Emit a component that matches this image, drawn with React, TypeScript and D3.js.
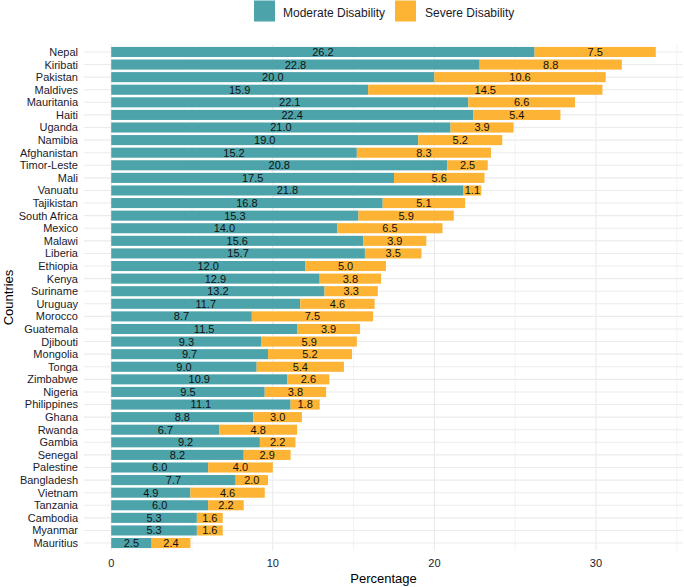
import React from 'react';
import * as d3 from 'd3';

// 国家按总比例降序排列
const countries = [
  'Nepal', 'Kiribati', 'Pakistan', 'Maldives', 'Mauritania', 'Haiti', 'Uganda', 'Namibia',
  'Afghanistan', 'Timor-Leste', 'Mali', 'Vanuatu', 'Tajikistan', 'South Africa', 'Mexico',
  'Malawi', 'Liberia', 'Ethiopia', 'Kenya', 'Suriname', 'Uruguay', 'Morocco', 'Guatemala',
  'Djibouti', 'Mongolia', 'Tonga', 'Zimbabwe', 'Nigeria', 'Philippines', 'Ghana', 'Rwanda',
  'Gambia', 'Senegal', 'Palestine', 'Bangladesh', 'Vietnam', 'Tanzania', 'Cambodia',
  'Myanmar', 'Mauritius',
];

const moderate = [
  26.2, 22.8, 20.0, 15.9, 22.1, 22.4, 21.0, 19.0, 15.2, 20.8, 17.5, 21.8, 16.8, 15.3, 14.0,
  15.6, 15.7, 12.0, 12.9, 13.2, 11.7, 8.7, 11.5, 9.3, 9.7, 9.0, 10.9, 9.5, 11.1, 8.8, 6.7,
  9.2, 8.2, 6.0, 7.7, 4.9, 6.0, 5.3, 5.3, 2.5,
];

const severe = [
  7.5, 8.8, 10.6, 14.5, 6.6, 5.4, 3.9, 5.2, 8.3, 2.5, 5.6, 1.1, 5.1, 5.9, 6.5,
  3.9, 3.5, 5.0, 3.8, 3.3, 4.6, 7.5, 3.9, 5.9, 5.2, 5.4, 2.6, 3.8, 1.8, 3.0, 4.8,
  2.2, 2.9, 4.0, 2.0, 4.6, 2.2, 1.6, 1.6, 2.4,
];

const seriesNames = ['Moderate Disability', 'Severe Disability'];
const seriesColors = ['#4DA3AA', '#FDB333'];
const xTicks = [0, 10, 20, 30];
const xMinor = [5, 15, 25, 35];

const W = 684;
const H = 587;
const panel = { left: 84, right: 683, top: 44.4, bottom: 550.6 };
const FONT = '"Liberation Sans", Arial, sans-serif';

const App: React.FC = () => {
  const rows = countries.map((c, i) => ({ country: c, moderate: moderate[i], severe: severe[i] }));
  const maxTotal = d3.max(rows, d => d.moderate + d.severe) as number;
  const pad = maxTotal * 0.05;

  const x = d3.scaleLinear().domain([-pad, maxTotal + pad]).range([panel.left, panel.right]);
  const y = d3.scaleBand<string>()
    .domain(countries)
    .range([panel.top, panel.bottom])
    .paddingInner(0.2)
    .paddingOuter(0.2);

  const stack = d3.stack<{ country: string; moderate: number; severe: number }>()
    .keys(['moderate', 'severe']);
  const layers = stack(rows);

  const cx = (panel.left + panel.right) / 2;
  const cy = (panel.top + panel.bottom) / 2;

  // 图例位置
  const legendItems = [
    { label: seriesNames[0], color: seriesColors[0], x: 254, tx: 283 },
    { label: seriesNames[1], color: seriesColors[1], x: 395, tx: 425 },
  ];

  return (
    <div style={{ position: 'absolute', left: 0, top: 0 }}>
      <svg width={W} height={H} style={{ display: 'block', background: '#fff' }} fontFamily={FONT}>
        {/* 网格线 */}
        {xMinor.map(t => (
          <line key={'mn' + t} x1={x(t)} x2={x(t)} y1={panel.top} y2={panel.bottom}
            stroke="#EBEBEB" strokeWidth={0.6} />
        ))}
        {xTicks.map(t => (
          <line key={'mj' + t} x1={x(t)} x2={x(t)} y1={panel.top} y2={panel.bottom}
            stroke="#EBEBEB" strokeWidth={1.1} />
        ))}
        {countries.map(c => (
          <line key={'h' + c} x1={panel.left} x2={panel.right}
            y1={(y(c) as number) + y.bandwidth() / 2} y2={(y(c) as number) + y.bandwidth() / 2}
            stroke="#EBEBEB" strokeWidth={1.1} />
        ))}

        {/* 堆叠条形 */}
        {layers.map((layer, li) => (
          <g key={layer.key} fill={seriesColors[li]}>
            {layer.map(d => (
              <rect key={d.data.country}
                x={x(d[0])} width={x(d[1]) - x(d[0])}
                y={y(d.data.country)} height={y.bandwidth()} />
            ))}
          </g>
        ))}

        {/* 数值标签 */}
        {layers.map(layer => (
          <g key={'t' + layer.key} fontSize={11} fill="#111" textAnchor="middle">
            {layer.map(d => (
              <text key={d.data.country}
                x={x((d[0] + d[1]) / 2)}
                y={(y(d.data.country) as number) + y.bandwidth() / 2}
                dy="0.36em">
                {(d[1] - d[0]).toFixed(1)}
              </text>
            ))}
          </g>
        ))}

        {/* y轴标签 */}
        <g fontSize={11} fill="#1a1a2a" textAnchor="end">
          {countries.map(c => (
            <text key={'yl' + c} x={78} y={(y(c) as number) + y.bandwidth() / 2} dy="0.36em">{c}</text>
          ))}
        </g>

        {/* x轴标签 */}
        <g fontSize={11} fill="#1a1a2a" textAnchor="middle">
          {xTicks.map(t => (
            <text key={'xl' + t} x={x(t)} y={563} dy="0.36em">{t}</text>
          ))}
        </g>

        <text x={cx} y={578} dy="0.36em" fontSize={13} textAnchor="middle" fill="#000">Percentage</text>
        <text transform={`translate(8,${cy}) rotate(-90)`} dy="0.36em" fontSize={13}
          textAnchor="middle" fill="#000">Countries</text>

        {/* 图例 */}
        {legendItems.map(it => (
          <g key={it.label}>
            <rect x={it.x} y={0.5} width={21} height={21} fill={it.color} />
            <text x={it.tx} y={12.5} dy="0.36em" fontSize={12} fill="#1a1a2a">{it.label}</text>
          </g>
        ))}
      </svg>
    </div>
  );
};

export default App;
